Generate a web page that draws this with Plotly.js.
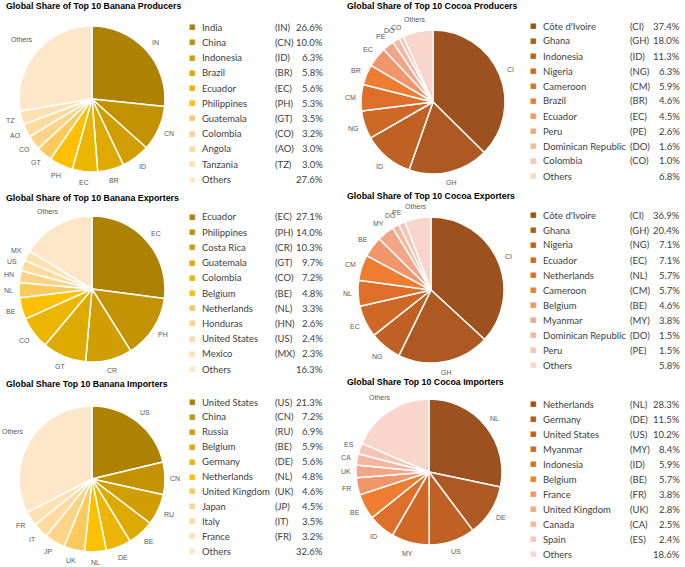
<!DOCTYPE html>
<html>
<head>
<meta charset="utf-8">
<script src="https://cdn.plot.ly/plotly-3.0.1.min.js"></script>
<style>
  body { margin: 0; background: #fff; }
  #plot-area { width: 685px; height: 567px; }
</style>
</head>
<body>
<div id="plot-area"></div>
<script>
// ---- data ----
var bananaProdNames = ["India", "China", "Indonesia", "Brazil", "Ecuador", "Philippines", "Guatemala", "Colombia", "Angola", "Tanzania", "Others"];
var bananaProdCodes = ["IN", "CN", "ID", "BR", "EC", "PH", "GT", "CO", "AO", "TZ", ""];
var bananaProdShares = [26.6, 10.0, 6.3, 5.8, 5.6, 5.3, 3.5, 3.2, 3.0, 3.0, 27.6];

var cocoaProdNames = ["Côte d'Ivoire", "Ghana", "Indonesia", "Nigeria", "Cameroon", "Brazil", "Ecuador", "Peru", "Dominican Republic", "Colombia", "Others"];
var cocoaProdCodes = ["CI", "GH", "ID", "NG", "CM", "BR", "EC", "PE", "DO", "CO", ""];
var cocoaProdShares = [37.4, 18.0, 11.3, 6.3, 5.9, 4.6, 4.5, 2.6, 1.6, 1.0, 6.8];

var bananaExpNames = ["Ecuador", "Philippines", "Costa Rica", "Guatemala", "Colombia", "Belgium", "Netherlands", "Honduras", "United States", "Mexico", "Others"];
var bananaExpCodes = ["EC", "PH", "CR", "GT", "CO", "BE", "NL", "HN", "US", "MX", ""];
var bananaExpShares = [27.1, 14.0, 10.3, 9.7, 7.2, 4.8, 3.3, 2.6, 2.4, 2.3, 16.3];

var cocoaExpNames = ["Côte d'Ivoire", "Ghana", "Nigeria", "Ecuador", "Netherlands", "Cameroon", "Belgium", "Myanmar", "Dominican Republic", "Peru", "Others"];
var cocoaExpCodes = ["CI", "GH", "NG", "EC", "NL", "CM", "BE", "MY", "DO", "PE", ""];
var cocoaExpShares = [36.9, 20.4, 7.1, 7.1, 5.7, 5.7, 4.6, 3.8, 1.5, 1.5, 5.8];

var bananaImpNames = ["United States", "China", "Russia", "Belgium", "Germany", "Netherlands", "United Kingdom", "Japan", "Italy", "France", "Others"];
var bananaImpCodes = ["US", "CN", "RU", "BE", "DE", "NL", "UK", "JP", "IT", "FR", ""];
var bananaImpShares = [21.3, 7.2, 6.9, 5.9, 5.6, 4.8, 4.6, 4.5, 3.5, 3.2, 32.6];

var cocoaImpNames = ["Netherlands", "Germany", "United States", "Myanmar", "Indonesia", "Belgium", "France", "United Kingdom", "Canada", "Spain", "Others"];
var cocoaImpCodes = ["NL", "DE", "US", "MY", "ID", "BE", "FR", "UK", "CA", "ES", ""];
var cocoaImpShares = [28.3, 11.5, 10.2, 8.4, 5.9, 5.7, 3.8, 2.8, 2.5, 2.4, 18.6];

var bananaColors = ["#ad8200", "#c39200", "#d19e00", "#deaa00", "#ecb600", "#ffc000", "#fcc95c", "#fdd387", "#fedb9e", "#fee1b1", "#fee7c9"];
var cocoaColors = ["#9c511f", "#ae5921", "#bf6124", "#cf6827", "#de6f2b", "#ee7d32", "#f1956a", "#f3a588", "#f5b7a2", "#f6c5b5", "#f8d6cc"];

// ---- panels ----
var W = 685, H = 567;
var panels = [
  {title: "Global Share of Top 10 Banana Producers", names: bananaProdNames, codes: bananaProdCodes, vals: bananaProdShares, colors: bananaColors,
   cx: 92, cy: 99, r: 73, tx: 4, ty: 6.5, lx: 192, ly: 27, step: 15.25, codeX: 273, pctX: 325},
  {title: "Global Share of Top 10 Cocoa Producers", names: cocoaProdNames, codes: cocoaProdCodes, vals: cocoaProdShares, colors: cocoaColors,
   cx: 433, cy: 102, r: 72, tx: 345, ty: 6.5, lx: 533, ly: 26, step: 15.0, codeX: 628, pctX: 682},
  {title: "Global Share of Top 10 Banana Exporters", names: bananaExpNames, codes: bananaExpCodes, vals: bananaExpShares, colors: bananaColors,
   cx: 92, cy: 289, r: 73, tx: 4, ty: 197.5, lx: 192, ly: 217, step: 15.2, codeX: 273, pctX: 325},
  {title: "Global Share of Top 10 Cocoa Exporters", names: cocoaExpNames, codes: cocoaExpCodes, vals: cocoaExpShares, colors: cocoaColors,
   cx: 431, cy: 290, r: 73, tx: 345, ty: 196.5, lx: 533, ly: 215, step: 15.0, codeX: 628, pctX: 682},
  {title: "Global Share Top 10 Banana Importers", names: bananaImpNames, codes: bananaImpCodes, vals: bananaImpShares, colors: bananaColors,
   cx: 92, cy: 479, r: 73, tx: 4, ty: 384, lx: 192, ly: 402, step: 14.9, codeX: 273, pctX: 325},
  {title: "Global Share Top 10 Cocoa Importers", names: cocoaImpNames, codes: cocoaImpCodes, vals: cocoaImpShares, colors: cocoaColors,
   cx: 429, cy: 472, r: 73, tx: 345, ty: 382, lx: 533, ly: 404, step: 15.0, codeX: 628, pctX: 682}
];
var labelFont = {family: "Liberation Sans, Arial, sans-serif", size: 7, color: "#595959"};
var legendFont = {family: "Lato, Carlito, sans-serif", size: 9.5, color: "#404040"};

function px(x) { return x / W; }
function py(y) { return 1 - y / H; }

var data = [];
var annotations = [];

panels.forEach(function (p) {
  data.push({
    type: "pie",
    values: p.vals,
    labels: p.names,
    textinfo: "none",
    marker: {colors: p.colors, line: {color: "#ffffff", width: 1.5}},
    sort: false,
    direction: "clockwise",
    rotation: 0,
    hoverinfo: "none",
    showlegend: false,
    domain: {x: [px(p.cx - p.r), px(p.cx + p.r)], y: [py(p.cy + p.r), py(p.cy - p.r)]}
  });

  // slice labels just outside the rim, centred on each slice's mid angle
  var total = p.vals.reduce(function (a, b) { return a + b; }, 0);
  var cum = 0;
  p.vals.forEach(function (v, i) {
    var a = 2 * Math.PI * (cum + v / 2) / total;
    cum += v;
    var lab = p.codes[i] || "Others";
    var w = lab.length * 4.3, h = 8;
    var d = p.r + 6 + Math.abs(Math.sin(a)) * w / 2 + Math.abs(Math.cos(a)) * h / 2;
    annotations.push({
      text: lab, xref: "paper", yref: "paper",
      x: px(p.cx + d * Math.sin(a)), y: py(p.cy - d * Math.cos(a)),
      xanchor: "center", yanchor: "middle", showarrow: false, font: labelFont
    });
  });

  annotations.push({
    text: "<b>" + p.title + "</b>", xref: "paper", yref: "paper",
    x: px(p.tx), y: py(p.ty), xanchor: "left", yanchor: "middle", showarrow: false,
    font: {family: "Liberation Sans, Arial, sans-serif", size: 8.8, color: "#000000"}
  });

  // legend table: marker, name, (code), share
  p.names.forEach(function (name, i) {
    var y = py(p.ly + i * p.step);
    annotations.push({text: "■", xref: "paper", yref: "paper", x: px(p.lx), y: y,
      xanchor: "center", yanchor: "middle", showarrow: false,
      font: {family: "DejaVu Sans", size: 7, color: p.colors[i]}});
    annotations.push({text: name, xref: "paper", yref: "paper", x: px(p.lx + 8), y: y,
      xanchor: "left", yanchor: "middle", showarrow: false, font: legendFont});
    if (p.codes[i]) {
      annotations.push({text: "(" + p.codes[i] + ")", xref: "paper", yref: "paper", x: px(p.codeX), y: y,
        xanchor: "left", yanchor: "middle", showarrow: false, font: legendFont});
    }
    annotations.push({text: p.vals[i].toFixed(1) + "%", xref: "paper", yref: "paper", x: px(p.pctX), y: y,
      xanchor: "right", yanchor: "middle", showarrow: false, font: legendFont});
  });
});

var layout = {
  width: W, height: H,
  margin: {l: 0, r: 0, t: 0, b: 0},
  paper_bgcolor: "#ffffff",
  showlegend: false,
  annotations: annotations
};

Plotly.newPlot("plot-area", data, layout, {staticPlot: true});
</script>
</body>
</html>
